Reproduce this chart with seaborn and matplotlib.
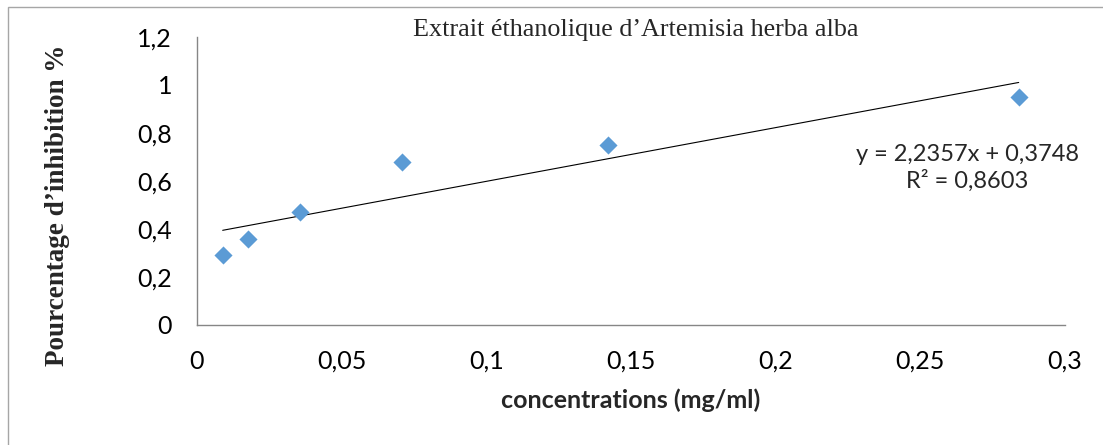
import matplotlib
matplotlib.use("Agg")
import matplotlib.pyplot as plt
from matplotlib.patches import Rectangle
from matplotlib.ticker import FuncFormatter, MultipleLocator
import pandas as pd
import seaborn as sns

# concentrations (mg/ml) and inhibition values
concentrations = [0.008875, 0.01775, 0.0355, 0.071, 0.142, 0.284]
inhibition = [0.29, 0.36, 0.47, 0.68, 0.75, 0.95]
equation_text = "y = 2,2357x + 0,3748\nR² = 0,8603"
title = "Extrait éthanolique d\u2019Artemisia herba alba"
x_label = "concentrations (mg/ml)"
y_label = "Pourcentage d\u2019inhibition %"

df = pd.DataFrame({"conc": concentrations, "inhib": inhibition})

sns.set_theme(style="white")
plt.rcParams["font.family"] = ["Lato", "DejaVu Sans"]

blue = "#5B9BD5"
axis_gray = "#868686"

fig = plt.figure(figsize=(11.03, 4.45), dpi=100)
ax = fig.add_axes([197 / 1103, 1 - 325 / 445, 868 / 1103, 288 / 445])

# trendline (linear fit) then the points
sns.regplot(data=df, x="conc", y="inhib", scatter=False, ci=None,
            truncate=True, color="black", line_kws={"linewidth": 0.8}, ax=ax)
sns.scatterplot(data=df, x="conc", y="inhib", marker="D", s=85,
                color=blue, edgecolor=blue, linewidth=0, ax=ax, zorder=3)

ax.set_xlim(0, 0.3)
ax.set_ylim(0, 1.2)
ax.xaxis.set_major_locator(MultipleLocator(0.05))
ax.yaxis.set_major_locator(MultipleLocator(0.2))
comma = FuncFormatter(lambda v, p: f"{v:.10g}".replace(".", ","))
ax.xaxis.set_major_formatter(comma)
ax.yaxis.set_major_formatter(comma)

for side in ["top", "right"]:
    ax.spines[side].set_visible(False)
for side in ["left", "bottom"]:
    ax.spines[side].set_color(axis_gray)
    ax.spines[side].set_linewidth(1.0)
ax.tick_params(axis="both", direction="out", length=6, width=1.0,
               color=axis_gray, labelsize=18, labelcolor="black")
ax.tick_params(axis="x", pad=12)
ax.tick_params(axis="y", pad=12)
ax.set_xlabel("")
ax.set_ylabel("")

fig.text((197 + 1065) / 2 / 1103, 1 - 400 / 445, x_label, ha="center",
         va="center", fontsize=18, fontweight="bold")
fig.text(58 / 1103, 1 - 205 / 445, y_label, rotation=90, ha="center",
         va="center", fontsize=19.5, fontweight="bold",
         family=["Liberation Serif", "DejaVu Serif"])
fig.text(636 / 1103, 1 - 30 / 445, title, ha="center", va="center",
         fontsize=18.8, family=["Liberation Serif", "DejaVu Serif"])
fig.text(967 / 1103, 1 - 168 / 445, equation_text, ha="center",
         va="center", fontsize=17, linespacing=1.3)

# chart area frame
fig.patches.append(Rectangle((8 / 1103, -0.1), 1.2, 1 - 7 / 445 + 0.1,
                             transform=fig.transFigure, fill=False,
                             edgecolor="#A6A6A6", linewidth=1.0))

fig.savefig("out.png", dpi=100)
